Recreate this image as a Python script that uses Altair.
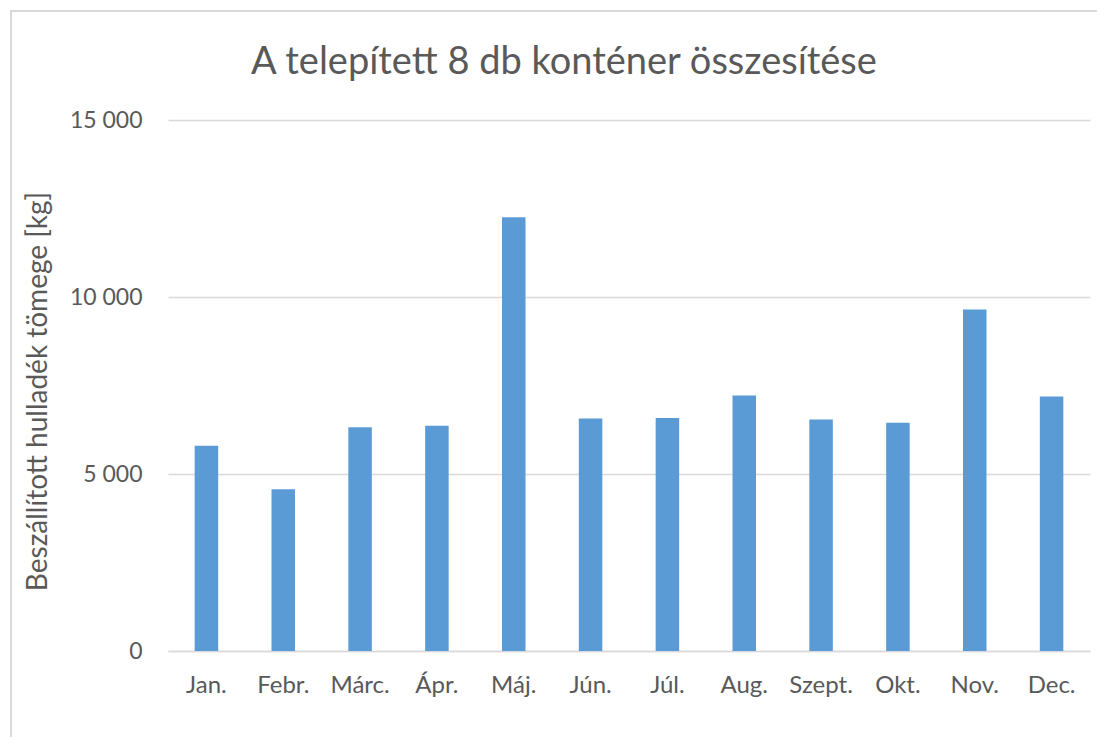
import altair as alt
import pandas as pd

months = ["Jan.", "Febr.", "Márc.", "Ápr.", "Máj.", "Jún.", "Júl.", "Aug.", "Szept.", "Okt.", "Nov.", "Dec."]
values = [5800, 4570, 6320, 6360, 12250, 6570, 6580, 7220, 6540, 6450, 9650, 7190]
y_ticks = [0, 5000, 10000, 15000]

df = pd.DataFrame({"honap": months, "tomeg": values})

FONT = "Lato"
TXT = "#595959"

bars = alt.Chart(df).mark_bar(color="#5B9BD5").encode(
    x=alt.X("honap:N", sort=months,
            scale=alt.Scale(paddingInner=0.694, paddingOuter=0.347),
            axis=alt.Axis(title=None, labelAngle=0, labelFont=FONT, labelFontSize=24,
                          labelColor=TXT, labelPadding=22, ticks=False,
                          domainColor="#D9D9D9", domainWidth=1.5)),
    y=alt.Y("tomeg:Q", scale=alt.Scale(domain=[0, 15000], nice=False),
            axis=alt.Axis(title="Beszállított hulladék tömege [kg]", values=y_ticks,
                          labelExpr="replace(format(datum.value, ','), regexp(',', 'g'), ' ')",
                          labelFont=FONT, labelFontSize=23, labelColor=TXT, labelPadding=26,
                          ticks=False, domain=False, grid=True, gridColor="#D9D9D9",
                          gridWidth=1.5, titleFont=FONT, titleFontSize=28,
                          titleFontWeight="normal", titleColor=TXT, titleX=-116,
                          titleY=271, titleAnchor="middle")),
)

border = alt.Chart(df).mark_rect(fill=None, stroke="#D9D9D9", strokeWidth=1.5).encode(
    x=alt.value(-157), x2=alt.value(940), y=alt.value(-109), y2=alt.value(640)
)

chart = alt.layer(border, bars).properties(
    width=922, height=531,
    autosize=alt.AutoSizeParams(type="none"),
    padding={"left": 160, "top": 112, "right": 7, "bottom": 86},
    title=alt.Title("A telepített 8 db konténer összesítése", font=FONT, fontSize=38,
                    fontWeight="normal", color=TXT, anchor="middle", offset=-102,
                    baseline="alphabetic", frame="group", dx=-65),
).configure_view(stroke=None)

chart.save("out.html", embed_options={"renderer": "svg", "actions": False})
